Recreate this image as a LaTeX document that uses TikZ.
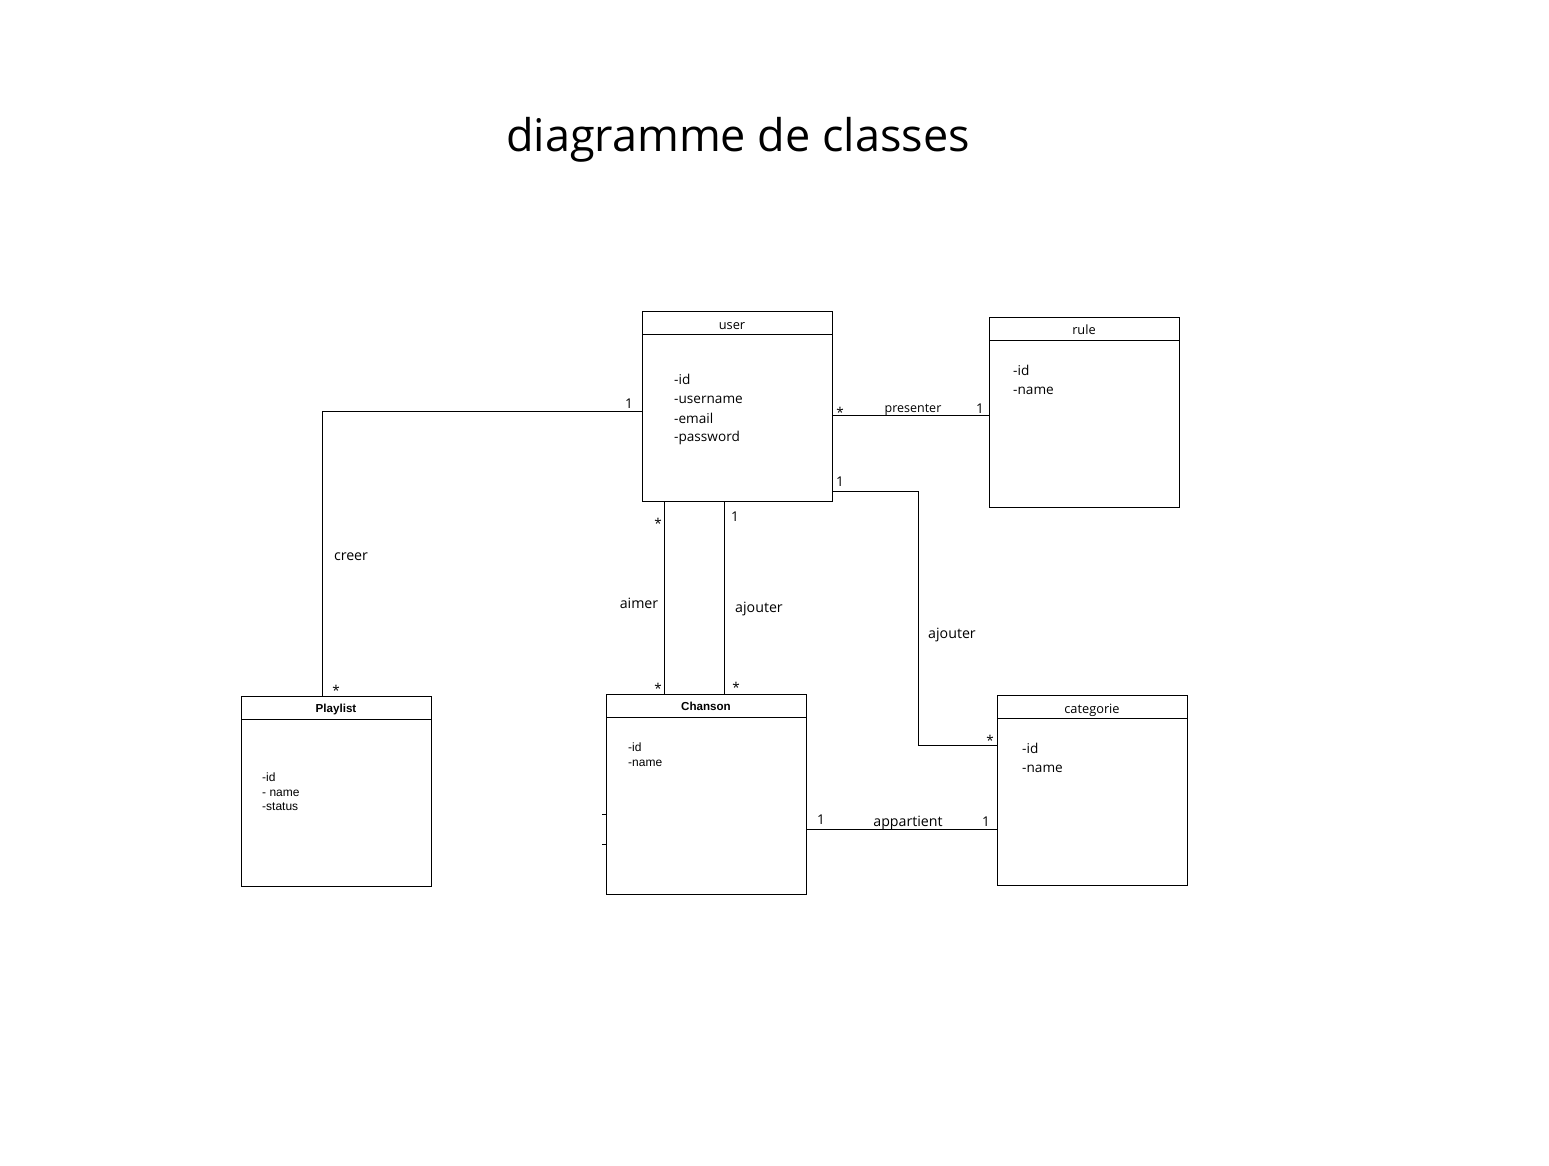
\documentclass[tikz,border=0pt]{standalone}
\usepackage{fontspec}
\setmainfont{Open Sans}
\newfontfamily\arialf{Liberation Sans}
\begin{document}
\begin{tikzpicture}[x=1pt,y=-1pt,
  box/.style={draw,line width=1pt},
  conn/.style={draw,line width=1pt},
  tx/.style={inner sep=0pt,text height=0.8em,text depth=0.22em,yshift=-3.5pt},
  lbl/.style={tx,font=\fontsize{14.2}{16}\selectfont},
  mult/.style={tx,font=\fontsize{13.5}{15}\selectfont},
  attr/.style={tx,anchor=west,font=\fontsize{13.6}{16}\selectfont},
  hdr/.style={tx,yshift=2pt,font=\fontsize{12.8}{15}\selectfont},
  aattr/.style={tx,yshift=2pt,anchor=west,font=\arialf\fontsize{12}{14}\selectfont},
  ahdr/.style={tx,yshift=2.5pt,font=\arialf\bfseries\fontsize{11.6}{14}\selectfont}]
\useasboundingbox (0,0) rectangle (1549,1165);
\node[tx,yshift=-6pt,font=\fontsize{45}{50}\selectfont] (title) at (738,139) {diagramme de classes};

% classes
\draw[box] (642,311) rectangle (832,501);
\draw[box] (642,334) -- (832,334);
\node[hdr] (userh) at (732,325) {user};
\node[attr] (u1) at (674,378) {-id};
\node[attr] (u2) at (674,397) {-username};
\node[attr] (u3) at (674,417) {-email};
\node[attr] (u4) at (674,435) {-password};

\draw[box] (989,317) rectangle (1179,507);
\draw[box] (989,340) -- (1179,340);
\node[hdr] (ruleh) at (1084,330) {rule};
\node[attr] (r1) at (1013,369) {-id};
\node[attr] (r2) at (1013,388) {-name};

\draw[box] (241,696) rectangle (431,886);
\draw[box] (241,719) -- (431,719);
\node[ahdr] (playh) at (336,709) {Playlist};
\node[aattr] (p1) at (262,777) {-id};
\node[aattr] (p2) at (262,792) {- name};
\node[aattr] (p3) at (262,806) {-status};

\draw[box] (606,694) rectangle (806,894);
\draw[box] (606,717) -- (806,717);
\node[ahdr] (chanh) at (706,707) {Chanson};
\node[aattr] (c1) at (628,747) {-id};
\node[aattr] (c2) at (628,762) {-name};

\draw[box] (997,695) rectangle (1187,885);
\draw[box] (997,718) -- (1187,718);
\node[hdr] (cath) at (1092,709) {categorie};
\node[attr] (k1) at (1022,747) {-id};
\node[attr] (k2) at (1022,766) {-name};

% connectors
\coordinate (a1) at (642,411);
\coordinate (a2) at (322,411);
\coordinate (a3) at (322,696);
\draw[conn] (a1) -- (a2) -- (a3);
\node[mult] at (629,402) {1};
\node[mult] at (336,689) {*};
\node[lbl] at (351,554) {creer};

\coordinate (b1) at (832,415);
\coordinate (b2) at (989,415);
\draw[conn] (b1) -- (b2);
\node[mult] at (840,411) {*};
\node[tx,font=\fontsize{12.5}{14}\selectfont] at (913,406) {presenter};
\node[mult] at (980,407) {1};

\coordinate (d1) at (832,491);
\coordinate (d2) at (918,491);
\coordinate (d3) at (918,745);
\coordinate (d4) at (997,745);
\draw[conn] (d1) -- (d2) -- (d3) -- (d4);
\node[mult] at (840,480) {1};
\node[lbl] at (952,632) {ajouter};
\node[mult] at (990,739) {*};

\coordinate (e1) at (664,501);
\coordinate (e2) at (664,694);
\draw[conn] (e1) -- (e2);
\node[mult] at (658,522) {*};
\node[mult] at (658,687) {*};
\node[lbl] at (639,602) {aimer};

\coordinate (f1) at (724,501);
\coordinate (f2) at (724,694);
\draw[conn] (f1) -- (f2);
\node[mult] at (735,515) {1};
\node[mult] at (736,686) {*};
\node[lbl] at (759,606) {ajouter};

\coordinate (g1) at (806,829);
\coordinate (g2) at (997,829);
\draw[conn] (g1) -- (g2);
\node[mult] at (821,818) {1};
\node[lbl] at (908,820) {appartient};
\node[mult] at (986,820) {1};

\coordinate (t1) at (602,814);
\coordinate (t2) at (606,814);
\coordinate (t3) at (602,844);
\coordinate (t4) at (606,844);
\draw[conn] (t1) -- (t2);
\draw[conn] (t3) -- (t4);
\end{tikzpicture}
\end{document}
